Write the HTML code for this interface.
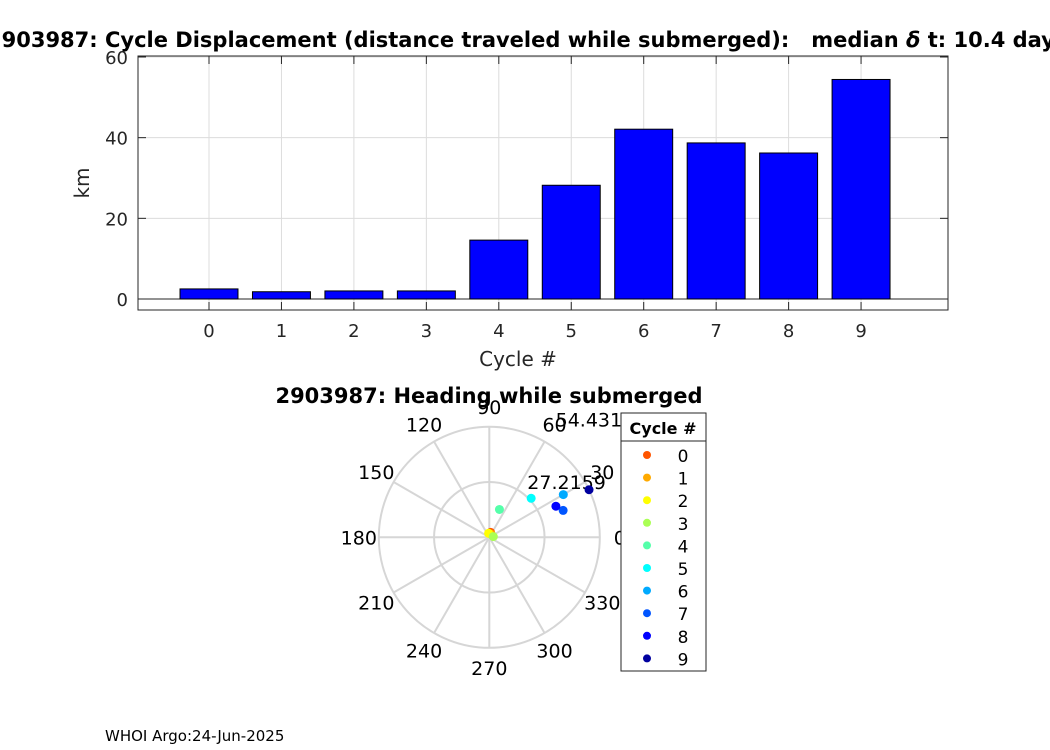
<!DOCTYPE html>
<html><head><meta charset="utf-8"><style>
body{margin:0;background:#fff;}
svg{display:block;font-family:"DejaVu Sans","Liberation Sans",sans-serif;}
</style></head><body>
<svg id="c" width="1050" height="750" viewBox="0 0 1050 750">
<text x="-13" y="47" font-size="21" font-weight="bold" fill="#000" xml:space="preserve">2903987: Cycle Displacement (distance traveled while submerged):   median <tspan font-style="italic">δ</tspan> t: 10.4 days</text>
<g id="bars"></g>
<text x="518" y="366" font-size="20" fill="#262626" text-anchor="middle">Cycle #</text>
<text transform="translate(89,183) rotate(-90)" font-size="20" fill="#262626" text-anchor="middle">km</text>
<text x="489" y="403" font-size="21" font-weight="bold" fill="#000" text-anchor="middle">2903987: Heading while submerged</text>
<g id="polar"></g>
<g id="legend"></g>
<text x="105" y="741" font-size="15" fill="#000">WHOI Argo:24-Jun-2025</text>
</svg>
<script>
const cycles=[0,1,2,3,4,5,6,7,8,9];
const displacement=[2.5,1.8,2.0,2.0,14.6,28.2,42.1,38.7,36.2,54.43];
const headings=[75,60,100,10,70,43,30,20,25,25.5];
const yTicks=[0,20,40,60];
const angleTicks=[0,30,60,90,120,150,180,210,240,270,300,330];
const colors=["#ff5500","#ffaa00","#ffff00","#aaff55","#55ffaa","#00ffff","#00aaff","#0055ff","#0000ff","#00009f"];
const NS="http://www.w3.org/2000/svg";
function mk(p,t,a){const e=document.createElementNS(NS,t);for(const k in a)e.setAttribute(k,a[k]);p.appendChild(e);return e;}
const L=138,R=948,T=56,B=310;
const xs=v=>L+(v+0.98)*(R-L)/11.18;
const ys=v=>299-v*(299-57)/60;
const g=document.getElementById('bars');
cycles.forEach(c=>{const l=mk(g,'line',{x1:xs(c),x2:xs(c),y1:T,y2:B,stroke:'#dcdcdc'});

});
yTicks.forEach(v=>{const l=mk(g,'line',{x1:L,x2:R,y1:ys(v),y2:ys(v),stroke:'#dcdcdc'});


const t=mk(g,'text',{x:L-10,y:ys(v)+7,'font-size':18,fill:'#262626','text-anchor':'end'});t.textContent=v;

});
mk(g,'line',{x1:L,x2:R,y1:ys(0),y2:ys(0),stroke:'#262626'});
cycles.forEach((c,i)=>{const w=0.8*(R-L)/11.18;const v=displacement[i];
const r=mk(g,'rect',{x:xs(c)-w/2,y:ys(v),width:w,height:ys(0)-ys(v),fill:'#0000ff',stroke:'#000','stroke-width':1});


const t=mk(g,'text',{x:xs(c),y:B+27,'font-size':18,fill:'#262626','text-anchor':'middle'});t.textContent=c;


mk(g,'line',{x1:xs(c),x2:xs(c),y1:T,y2:T+8,stroke:'#262626'});mk(g,'line',{x1:xs(c),x2:xs(c),y1:B,y2:B-8,stroke:'#262626'});});
yTicks.forEach(v=>{mk(g,'line',{x1:L,x2:L+8,y1:ys(v),y2:ys(v),stroke:'#262626'});mk(g,'line',{x1:R,x2:R-8,y1:ys(v),y2:ys(v),stroke:'#262626'});});
mk(g,'rect',{x:L,y:T,width:R-L,height:B-T,fill:'none',stroke:'#262626'});
// polar
const P=document.getElementById('polar');const cx=489.3,cy=537.3,RR=110.5,rmax=54.4318;
const rs=v=>v/rmax*RR;
[0.5,1].forEach(f=>mk(P,'circle',{cx,cy,r:RR*f,fill:'none',stroke:'#d6d6d6','stroke-width':2}));
angleTicks.forEach(a=>{const rad=a*Math.PI/180;
const l=mk(P,'line',{x1:cx,y1:cy,x2:cx+RR*Math.cos(rad),y2:cy-RR*Math.sin(rad),stroke:'#d6d6d6','stroke-width':2});


const t=mk(P,'text',{x:cx+(RR+20)*Math.cos(rad),y:cy-(RR+20)*Math.sin(rad)+7,'font-size':19,fill:'#000','text-anchor':'middle'});t.textContent=a;

});
[[27.2159,'27.2159'],[54.4318,'54.4318']].forEach(([v,s])=>{const rad=75*Math.PI/180;
const t=mk(P,'text',{x:cx+rs(v)*Math.cos(rad)+65+(v>30?12:-2),y:cy-rs(v)*Math.sin(rad)-3+(v>30?-1:8),'font-size':19,fill:'#000','text-anchor':'middle'});t.textContent=s;

});
cycles.forEach((c,i)=>{const rad=headings[i]*Math.PI/180;const r=rs(displacement[i]);
const d=mk(P,'circle',{cx:cx+r*Math.cos(rad),cy:cy-r*Math.sin(rad),r:4.5,fill:colors[i]});

});
// legend
const G=document.getElementById('legend');
mk(G,'rect',{x:621,y:413,width:85,height:258,fill:'#fff',stroke:'#262626'});
mk(G,'line',{x1:621,x2:706,y1:441,y2:441,stroke:'#262626'});
const lt=mk(G,'text',{x:663,y:434,'font-size':16,'font-weight':'bold','text-anchor':'middle'});lt.textContent='Cycle #';
cycles.forEach((c,i)=>{const y=455+i*22.6;
const d=mk(G,'circle',{cx:647,cy:y,r:4,fill:colors[i]});


const t=mk(G,'text',{x:683,y:y+7,'font-size':17,'text-anchor':'middle'});t.textContent=c;

});
</script>
</body></html>
